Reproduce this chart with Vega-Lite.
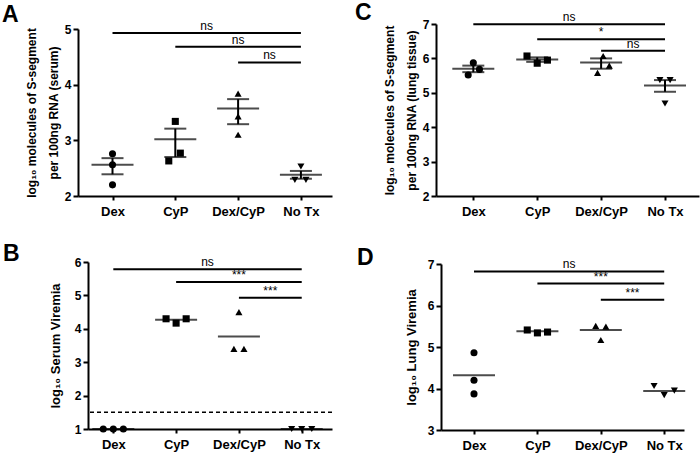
{
  "$schema": "https://vega.github.io/schema/vega-lite/v6.json",
  "autosize": "none",
  "padding": {"left": 88, "top": 24, "right": 612, "bottom": 441},
  "config": {
    "font": "Liberation Sans",
    "view": {"stroke": null},
    "axis": {"grid": false, "domainColor": "#000", "domainWidth": 2, "tickColor": "#000", "tickWidth": 2, "tickSize": 5, "labelColor": "#000", "labelFont": "Liberation Sans", "labelFontWeight": "bold", "labelFontSize": 12, "labelPadding": 2, "labelOverlap": false, "titleColor": "#000", "titleFont": "Liberation Sans", "titleFontWeight": "bold"},
    "axisY": {"format": "d", "labelOverlap": false},
    "axisX": {"labelFontSize": 13, "tickSize": 4, "labelPadding": 5},
    "title": {"font": "Liberation Sans", "fontSize": 23, "fontWeight": "bold", "color": "#000", "anchor": "start", "frame": "group"}
  },
  "datasets": {
    "pts": [
      {"panel": "A", "group": "Dex", "value": 2.76, "slot": 0},
      {"panel": "A", "group": "Dex", "value": 2.56, "slot": 0},
      {"panel": "A", "group": "Dex", "value": 2.20, "slot": 0},
      {"panel": "A", "group": "CyP", "value": 3.34, "slot": 0},
      {"panel": "A", "group": "CyP", "value": 2.77, "slot": 0.5},
      {"panel": "A", "group": "CyP", "value": 2.63, "slot": -0.65},
      {"panel": "A", "group": "Dex/CyP", "value": 3.84, "slot": 0},
      {"panel": "A", "group": "Dex/CyP", "value": 3.43, "slot": 0},
      {"panel": "A", "group": "Dex/CyP", "value": 3.10, "slot": 0},
      {"panel": "A", "group": "No Tx", "value": 2.53, "slot": 0},
      {"panel": "A", "group": "No Tx", "value": 2.29, "slot": -0.6},
      {"panel": "A", "group": "No Tx", "value": 2.29, "slot": 0.5},
      {"panel": "C", "group": "Dex", "value": 5.87, "slot": 0},
      {"panel": "C", "group": "Dex", "value": 5.68, "slot": 0.6},
      {"panel": "C", "group": "Dex", "value": 5.52, "slot": -0.5},
      {"panel": "C", "group": "CyP", "value": 6.07, "slot": -1},
      {"panel": "C", "group": "CyP", "value": 5.86, "slot": 0},
      {"panel": "C", "group": "CyP", "value": 5.95, "slot": 1},
      {"panel": "C", "group": "Dex/CyP", "value": 6.07, "slot": 0.2},
      {"panel": "C", "group": "Dex/CyP", "value": 5.79, "slot": 0.8},
      {"panel": "C", "group": "Dex/CyP", "value": 5.58, "slot": -0.35},
      {"panel": "C", "group": "No Tx", "value": 5.37, "slot": -0.5},
      {"panel": "C", "group": "No Tx", "value": 5.37, "slot": 0.5},
      {"panel": "C", "group": "No Tx", "value": 4.69, "slot": 0},
      {"panel": "B", "group": "Dex", "value": 1, "slot": -1},
      {"panel": "B", "group": "Dex", "value": 1, "slot": 0},
      {"panel": "B", "group": "Dex", "value": 1, "slot": 1},
      {"panel": "B", "group": "CyP", "value": 4.30, "slot": -1},
      {"panel": "B", "group": "CyP", "value": 4.17, "slot": 0},
      {"panel": "B", "group": "CyP", "value": 4.30, "slot": 1},
      {"panel": "B", "group": "Dex/CyP", "value": 4.50, "slot": 0},
      {"panel": "B", "group": "Dex/CyP", "value": 3.40, "slot": -0.5},
      {"panel": "B", "group": "Dex/CyP", "value": 3.40, "slot": 0.5},
      {"panel": "B", "group": "No Tx", "value": 1, "slot": -1},
      {"panel": "B", "group": "No Tx", "value": 1, "slot": 0},
      {"panel": "B", "group": "No Tx", "value": 1, "slot": 1},
      {"panel": "D", "group": "Dex", "value": 4.86, "slot": 0},
      {"panel": "D", "group": "Dex", "value": 4.20, "slot": 0},
      {"panel": "D", "group": "Dex", "value": 3.87, "slot": 0},
      {"panel": "D", "group": "CyP", "value": 5.41, "slot": -1},
      {"panel": "D", "group": "CyP", "value": 5.34, "slot": 0},
      {"panel": "D", "group": "CyP", "value": 5.36, "slot": 1},
      {"panel": "D", "group": "Dex/CyP", "value": 5.51, "slot": -0.5},
      {"panel": "D", "group": "Dex/CyP", "value": 5.49, "slot": 0.5},
      {"panel": "D", "group": "Dex/CyP", "value": 5.17, "slot": 0},
      {"panel": "D", "group": "No Tx", "value": 4.06, "slot": -1},
      {"panel": "D", "group": "No Tx", "value": 3.84, "slot": 0},
      {"panel": "D", "group": "No Tx", "value": 3.95, "slot": 1}
    ],
    "summ": [
      {"panel": "A", "group": "Dex", "mean": 2.56, "lo": 2.39, "hi": 2.68},
      {"panel": "A", "group": "CyP", "mean": 3.02, "lo": 2.70, "hi": 3.21},
      {"panel": "A", "group": "Dex/CyP", "mean": 3.57, "lo": 3.29, "hi": 3.74},
      {"panel": "A", "group": "No Tx", "mean": 2.38, "lo": 2.31, "hi": 2.45},
      {"panel": "C", "group": "Dex", "mean": 5.70, "lo": 5.60, "hi": 5.79},
      {"panel": "C", "group": "CyP", "mean": 5.97, "lo": 5.90, "hi": 6.03},
      {"panel": "C", "group": "Dex/CyP", "mean": 5.88, "lo": 5.70, "hi": 6.00},
      {"panel": "C", "group": "No Tx", "mean": 5.21, "lo": 5.03, "hi": 5.37},
      {"panel": "B", "group": "Dex", "mean": 1},
      {"panel": "B", "group": "CyP", "mean": 4.27},
      {"panel": "B", "group": "Dex/CyP", "mean": 3.77},
      {"panel": "B", "group": "No Tx", "mean": 1},
      {"panel": "D", "group": "Dex", "mean": 4.32},
      {"panel": "D", "group": "CyP", "mean": 5.38},
      {"panel": "D", "group": "Dex/CyP", "mean": 5.41},
      {"panel": "D", "group": "No Tx", "mean": 3.94}
    ],
    "sig": [
      {"panel": "A", "from": "Dex", "to": "No Tx", "y": 4.93, "label": "ns"},
      {"panel": "A", "from": "CyP", "to": "No Tx", "y": 4.68, "label": "ns"},
      {"panel": "A", "from": "Dex/CyP", "to": "No Tx", "y": 4.40, "label": "ns"},
      {"panel": "C", "from": "Dex", "to": "No Tx", "y": 6.99, "label": "ns"},
      {"panel": "C", "from": "CyP", "to": "No Tx", "y": 6.56, "label": "*"},
      {"panel": "C", "from": "Dex/CyP", "to": "No Tx", "y": 6.22, "label": "ns"},
      {"panel": "B", "from": "Dex", "to": "No Tx", "y": 5.78, "label": "ns"},
      {"panel": "B", "from": "CyP", "to": "No Tx", "y": 5.40, "label": "***"},
      {"panel": "B", "from": "Dex/CyP", "to": "No Tx", "y": 4.93, "label": "***"},
      {"panel": "D", "from": "Dex", "to": "No Tx", "y": 6.82, "label": "ns"},
      {"panel": "D", "from": "CyP", "to": "No Tx", "y": 6.53, "label": "***"},
      {"panel": "D", "from": "Dex/CyP", "to": "No Tx", "y": 6.14, "label": "***"}
    ]
  },
  "columns": 2,
  "bounds": "flush",
  "spacing": {"row": 66, "column": 109},
  "concat": [
    {
      "width": 244, "height": 172,
      "title": {"text": "A", "dx": -86, "dy": 11},
      "layer": [
        {
          "data": {"name": "pts"},
          "transform": [{"filter": "datum.panel === 'A'"}, {"calculate": "indexof(['Dex','CyP','Dex/CyP','No Tx'], datum.group) + 1 + datum.slot * 0.16", "as": "xj"}],
          "mark": {"type": "point", "filled": true, "opacity": 1, "color": "#000", "size": 50},
          "encoding": {
            "x": {"field": "xj", "type": "quantitative", "scale": {"domain": [0.4506, 4.495], "range": [-10, 244], "nice": false, "zero": false}, "axis": {"values": [1, 2, 3, 4], "labelExpr": "['','Dex','CyP','Dex/CyP','No Tx'][datum.value]", "title": null}},
            "y": {"field": "value", "type": "quantitative", "scale": {"domain": [2, 5], "range": [172, 5], "nice": false, "zero": false}, "axis": {"values": [2, 3, 4, 5], "labelOverlap": false, "title": ["log₁₀ molecules of S-segment", "per 100ng RNA (serum)"], "titleFontSize": 12, "titleLineHeight": 22, "titlePadding": 4, "offset": 10}},
            "shape": {"field": "group", "type": "nominal", "scale": {"domain": ["Dex", "CyP", "Dex/CyP", "No Tx"], "range": ["circle", "square", "triangle-up", "triangle-down"]}, "legend": null}
          }
        },
        {
          "data": {"name": "summ"},
          "transform": [{"filter": "datum.panel === 'A'"}, {"calculate": "indexof(['Dex','CyP','Dex/CyP','No Tx'], datum.group) + 1", "as": "g"}],
          "layer": [
            {"mark": {"type": "tick", "orient": "horizontal", "size": 42, "thickness": 2, "color": "#000"}, "encoding": {"x": {"field": "g", "type": "quantitative"}, "y": {"field": "mean", "type": "quantitative"}}},
            {"mark": {"type": "tick", "orient": "horizontal", "size": 22, "thickness": 2, "color": "#000"}, "encoding": {"x": {"field": "g", "type": "quantitative"}, "y": {"field": "lo", "type": "quantitative"}}},
            {"mark": {"type": "tick", "orient": "horizontal", "size": 22, "thickness": 2, "color": "#000"}, "encoding": {"x": {"field": "g", "type": "quantitative"}, "y": {"field": "hi", "type": "quantitative"}}},
            {"mark": {"type": "rule", "strokeWidth": 2, "color": "#000"}, "encoding": {"x": {"field": "g", "type": "quantitative"}, "y": {"field": "lo", "type": "quantitative"}, "y2": {"field": "hi"}}}
          ]
        },
        {
          "data": {"name": "sig"},
          "transform": [{"filter": "datum.panel === 'A'"}, {"calculate": "indexof(['Dex','CyP','Dex/CyP','No Tx'], datum.from) + 1", "as": "g1"}, {"calculate": "indexof(['Dex','CyP','Dex/CyP','No Tx'], datum.to) + 1", "as": "g2"}, {"calculate": "(datum.g1 + datum.g2) / 2", "as": "mid"}],
          "layer": [
            {"mark": {"type": "rule", "strokeWidth": 2, "color": "#000"}, "encoding": {"x": {"field": "g1", "type": "quantitative"}, "x2": {"field": "g2"}, "y": {"field": "y", "type": "quantitative"}}},
            {"mark": {"type": "text", "fontSize": 12, "dy": -3, "baseline": "alphabetic", "color": "#000"}, "encoding": {"x": {"field": "mid", "type": "quantitative"}, "y": {"field": "y", "type": "quantitative"}, "text": {"field": "label"}}}
          ]
        }
      ]
    },
    {
      "width": 258, "height": 172,
      "title": {"text": "C", "dx": -86, "dy": 18},
      "layer": [
        {
          "data": {"name": "pts"},
          "transform": [{"filter": "datum.panel === 'C'"}, {"calculate": "indexof(['Dex','CyP','Dex/CyP','No Tx'], datum.group) + 1 + datum.slot * 0.16", "as": "xj"}],
          "mark": {"type": "point", "filled": true, "opacity": 1, "color": "#000", "size": 50},
          "encoding": {
            "x": {"field": "xj", "type": "quantitative", "scale": {"domain": [0.416, 4.532], "range": [-5, 258], "nice": false, "zero": false}, "axis": {"values": [1, 2, 3, 4], "labelExpr": "['','Dex','CyP','Dex/CyP','No Tx'][datum.value]", "title": null}},
            "y": {"field": "value", "type": "quantitative", "scale": {"domain": [2, 7], "range": [172, 0], "nice": false, "zero": false}, "axis": {"values": [2, 3, 4, 5, 6, 7], "tickCount": 6, "labelOverlap": false, "title": ["log₁₀ molecules of S-segment", "per 100ng RNA (lung tissue)"], "titleFontSize": 12, "titleLineHeight": 22, "titlePadding": 4, "offset": 5}},
            "shape": {"field": "group", "type": "nominal", "scale": {"domain": ["Dex", "CyP", "Dex/CyP", "No Tx"], "range": ["circle", "square", "triangle-up", "triangle-down"]}, "legend": null}
          }
        },
        {
          "data": {"name": "summ"},
          "transform": [{"filter": "datum.panel === 'C'"}, {"calculate": "indexof(['Dex','CyP','Dex/CyP','No Tx'], datum.group) + 1", "as": "g"}],
          "layer": [
            {"mark": {"type": "tick", "orient": "horizontal", "size": 42, "thickness": 2, "color": "#000"}, "encoding": {"x": {"field": "g", "type": "quantitative"}, "y": {"field": "mean", "type": "quantitative"}}},
            {"mark": {"type": "tick", "orient": "horizontal", "size": 22, "thickness": 2, "color": "#000"}, "encoding": {"x": {"field": "g", "type": "quantitative"}, "y": {"field": "lo", "type": "quantitative"}}},
            {"mark": {"type": "tick", "orient": "horizontal", "size": 22, "thickness": 2, "color": "#000"}, "encoding": {"x": {"field": "g", "type": "quantitative"}, "y": {"field": "hi", "type": "quantitative"}}},
            {"mark": {"type": "rule", "strokeWidth": 2, "color": "#000"}, "encoding": {"x": {"field": "g", "type": "quantitative"}, "y": {"field": "lo", "type": "quantitative"}, "y2": {"field": "hi"}}}
          ]
        },
        {
          "data": {"name": "sig"},
          "transform": [{"filter": "datum.panel === 'C'"}, {"calculate": "indexof(['Dex','CyP','Dex/CyP','No Tx'], datum.from) + 1", "as": "g1"}, {"calculate": "indexof(['Dex','CyP','Dex/CyP','No Tx'], datum.to) + 1", "as": "g2"}, {"calculate": "(datum.g1 + datum.g2) / 2", "as": "mid"}],
          "layer": [
            {"mark": {"type": "rule", "strokeWidth": 2, "color": "#000"}, "encoding": {"x": {"field": "g1", "type": "quantitative"}, "x2": {"field": "g2"}, "y": {"field": "y", "type": "quantitative"}}},
            {"mark": {"type": "text", "fontSize": 12, "dy": -3, "baseline": "alphabetic", "color": "#000"}, "encoding": {"x": {"field": "mid", "type": "quantitative"}, "y": {"field": "y", "type": "quantitative"}, "text": {"field": "label"}}}
          ]
        }
      ]
    },
    {
      "width": 244, "height": 167,
      "title": {"text": "B", "dx": -85, "dy": 14},
      "layer": [
        {
          "data": {"name": "pts"},
          "transform": [{"filter": "datum.panel === 'B'"}, {"calculate": "indexof(['Dex','CyP','Dex/CyP','No Tx'], datum.group) + 1 + datum.slot * 0.16", "as": "xj"}],
          "mark": {"type": "point", "filled": true, "opacity": 1, "color": "#000", "size": 50},
          "encoding": {
            "x": {"field": "xj", "type": "quantitative", "scale": {"domain": [0.597, 4.482], "range": [0, 244], "nice": false, "zero": false}, "axis": {"values": [1, 2, 3, 4], "labelExpr": "['','Dex','CyP','Dex/CyP','No Tx'][datum.value]", "title": null}},
            "y": {"field": "value", "type": "quantitative", "scale": {"domain": [1, 6], "range": [167, 0], "nice": false, "zero": false}, "axis": {"values": [1, 2, 3, 4, 5, 6], "tickCount": 6, "labelOverlap": false, "title": "log₁₀ Serum Viremia", "titleFontSize": 13, "titlePadding": 12}},
            "shape": {"field": "group", "type": "nominal", "scale": {"domain": ["Dex", "CyP", "Dex/CyP", "No Tx"], "range": ["circle", "square", "triangle-up", "triangle-down"]}, "legend": null}
          }
        },
        {
          "data": {"values": [{"lod": 1.5}]},
          "mark": {"type": "rule", "strokeDash": [4, 3], "strokeWidth": 1.5, "color": "#000"},
          "encoding": {"y": {"field": "lod", "type": "quantitative"}}
        },
        {
          "data": {"name": "summ"},
          "transform": [{"filter": "datum.panel === 'B'"}, {"calculate": "indexof(['Dex','CyP','Dex/CyP','No Tx'], datum.group) + 1", "as": "g"}],
          "mark": {"type": "tick", "orient": "horizontal", "size": 42, "thickness": 2, "color": "#000"},
          "encoding": {"x": {"field": "g", "type": "quantitative"}, "y": {"field": "mean", "type": "quantitative"}}
        },
        {
          "data": {"name": "sig"},
          "transform": [{"filter": "datum.panel === 'B'"}, {"calculate": "indexof(['Dex','CyP','Dex/CyP','No Tx'], datum.from) + 1", "as": "g1"}, {"calculate": "indexof(['Dex','CyP','Dex/CyP','No Tx'], datum.to) + 1", "as": "g2"}, {"calculate": "(datum.g1 + datum.g2) / 2", "as": "mid"}],
          "layer": [
            {"mark": {"type": "rule", "strokeWidth": 2, "color": "#000"}, "encoding": {"x": {"field": "g1", "type": "quantitative"}, "x2": {"field": "g2"}, "y": {"field": "y", "type": "quantitative"}}},
            {"mark": {"type": "text", "fontSize": 12, "dy": -3, "baseline": "alphabetic", "color": "#000"}, "encoding": {"x": {"field": "mid", "type": "quantitative"}, "y": {"field": "y", "type": "quantitative"}, "text": {"field": "label"}}}
          ]
        }
      ]
    },
    {
      "width": 243, "height": 168,
      "title": {"text": "D", "dx": -84, "dy": 16},
      "layer": [
        {
          "data": {"name": "pts"},
          "transform": [{"filter": "datum.panel === 'D'"}, {"calculate": "indexof(['Dex','CyP','Dex/CyP','No Tx'], datum.group) + 1 + datum.slot * 0.16", "as": "xj"}],
          "mark": {"type": "point", "filled": true, "opacity": 1, "color": "#000", "size": 50},
          "encoding": {
            "x": {"field": "xj", "type": "quantitative", "scale": {"domain": [0.4795, 4.312], "nice": false, "zero": false}, "axis": {"values": [1, 2, 3, 4], "labelExpr": "['','Dex','CyP','Dex/CyP','No Tx'][datum.value]", "title": null}},
            "y": {"field": "value", "type": "quantitative", "scale": {"domain": [3, 7], "range": [168, 2], "nice": false, "zero": false}, "axis": {"values": [3, 4, 5, 6, 7], "labelOverlap": false, "title": "log₁₀ Lung Viremia", "titleFontSize": 13, "titlePadding": 9}},
            "shape": {"field": "group", "type": "nominal", "scale": {"domain": ["Dex", "CyP", "Dex/CyP", "No Tx"], "range": ["circle", "square", "triangle-up", "triangle-down"]}, "legend": null}
          }
        },
        {
          "data": {"name": "summ"},
          "transform": [{"filter": "datum.panel === 'D'"}, {"calculate": "indexof(['Dex','CyP','Dex/CyP','No Tx'], datum.group) + 1", "as": "g"}],
          "mark": {"type": "tick", "orient": "horizontal", "size": 42, "thickness": 2, "color": "#000"},
          "encoding": {"x": {"field": "g", "type": "quantitative"}, "y": {"field": "mean", "type": "quantitative"}}
        },
        {
          "data": {"name": "sig"},
          "transform": [{"filter": "datum.panel === 'D'"}, {"calculate": "indexof(['Dex','CyP','Dex/CyP','No Tx'], datum.from) + 1", "as": "g1"}, {"calculate": "indexof(['Dex','CyP','Dex/CyP','No Tx'], datum.to) + 1", "as": "g2"}, {"calculate": "(datum.g1 + datum.g2) / 2", "as": "mid"}],
          "layer": [
            {"mark": {"type": "rule", "strokeWidth": 2, "color": "#000"}, "encoding": {"x": {"field": "g1", "type": "quantitative"}, "x2": {"field": "g2"}, "y": {"field": "y", "type": "quantitative"}}},
            {"mark": {"type": "text", "fontSize": 12, "dy": -3, "baseline": "alphabetic", "color": "#000"}, "encoding": {"x": {"field": "mid", "type": "quantitative"}, "y": {"field": "y", "type": "quantitative"}, "text": {"field": "label"}}}
          ]
        }
      ]
    }
  ]
}
